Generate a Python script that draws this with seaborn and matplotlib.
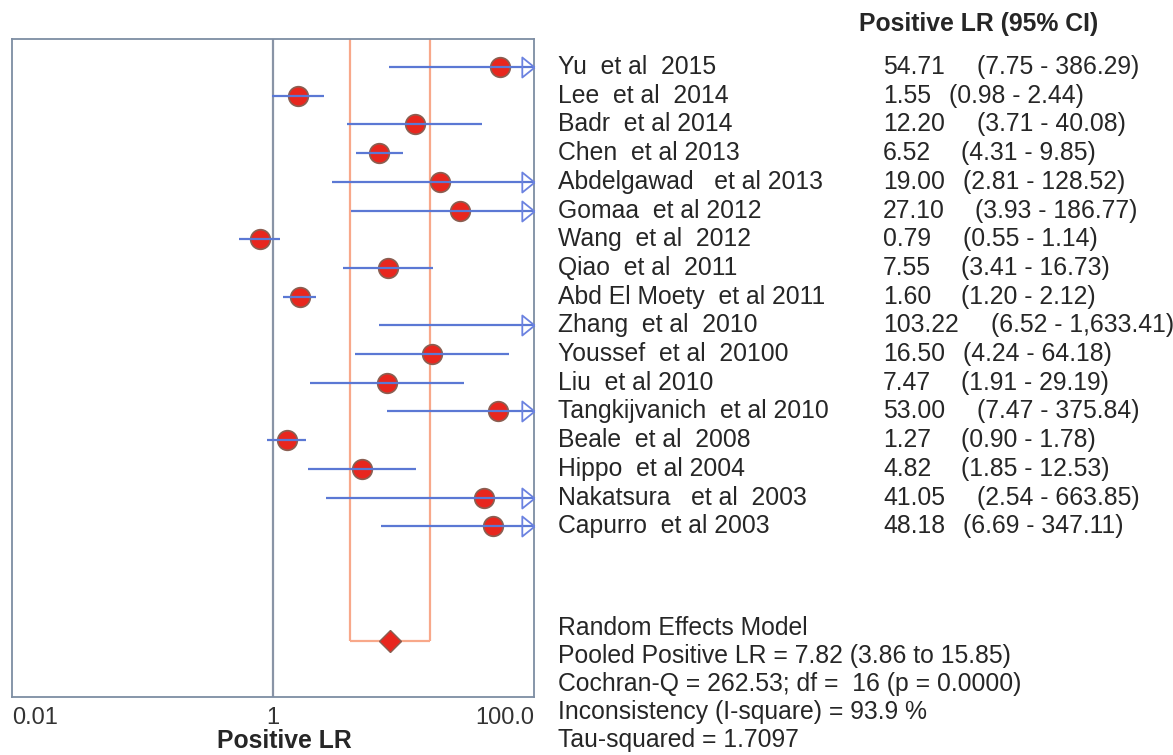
import numpy as np
import pandas as pd
import matplotlib
matplotlib.use("Agg")
import matplotlib.pyplot as plt
import matplotlib.transforms as mtransforms
import seaborn as sns

# ---------------- data ----------------
studies = ["Yu  et al  2015", "Lee  et al  2014", "Badr  et al 2014", "Chen  et al 2013",
           "Abdelgawad   et al 2013", "Gomaa  et al 2012", "Wang  et al  2012",
           "Qiao  et al  2011", "Abd El Moety  et al 2011", "Zhang  et al  2010",
           "Youssef  et al  20100", "Liu  et al 2010", "Tangkijvanich  et al 2010",
           "Beale  et al  2008", "Hippo  et al 2004", "Nakatsura   et al  2003",
           "Capurro  et al 2003"]
lr = [54.71, 1.55, 12.20, 6.52, 19.00, 27.10, 0.79, 7.55, 1.60, 103.22, 16.50, 7.47,
      53.00, 1.27, 4.82, 41.05, 48.18]
ci_low = [7.75, 0.98, 3.71, 4.31, 2.81, 3.93, 0.55, 3.41, 1.20, 6.52, 4.24, 1.91,
          7.47, 0.90, 1.85, 2.54, 6.69]
ci_high = [386.29, 2.44, 40.08, 9.85, 128.52, 186.77, 1.14, 16.73, 2.12, 1633.41, 64.18,
           29.19, 375.84, 1.78, 12.53, 663.85, 347.11]
pooled_lr = 7.82
pooled_low = 3.86
pooled_high = 15.85
x_ticks = [0.01, 1, 100]
x_tick_labels = ["0.01", "1", "100.0"]
stats_lines = ["Random Effects Model",
               "Pooled Positive LR = 7.82 (3.86 to 15.85)",
               "Cochran-Q = 262.53; df =  16 (p = 0.0000)",
               "Inconsistency (I-square) = 93.9 %",
               "Tau-squared = 1.7097"]
header = "Positive LR (95% CI)"
x_label = "Positive LR"

# layout only: gap (px) between the LR value and its CI text in each row
ci_gap_px = [32, 18, 32, 30, 18, 30, 32, 30, 30, 32, 18, 30, 32, 30, 30, 32, 18]

# ---------------- style ----------------
sns.set_theme(style="white")
plt.rcParams["font.family"] = ["Liberation Sans", "DejaVu Sans"]

W, H = 1173, 755
fig = plt.figure(figsize=(W / 100, H / 100), dpi=100)
ax = fig.add_axes([12 / W, 1 - 697 / H, 522 / W, 658 / H])

rows = np.arange(len(studies))
pooled_row = 20.0
df = pd.DataFrame({"study": studies, "lr": lr, "lo": ci_low, "hi": ci_high, "row": rows})

XMIN, XMAX = 0.01, 100
ax.set_xscale("log")
ax.set_xlim(XMIN, XMAX)
ax.set_ylim(21.95, -0.976)

BLUE = "#5b78d4"
RED = "#e8261e"
EDGE = "#8a5f52"
ORANGE = "#f8a88a"
FRAME = "#7d8da3"
TXT = "#262626"
FS = 17.8

# reference line at 1
ax.axvline(1, color="#8994a6", lw=1.6, zorder=1)

# pooled CI box (orange)
ax.vlines([pooled_low, pooled_high], -0.976, pooled_row, color=ORANGE, lw=1.6, zorder=1)
ax.hlines(pooled_row, pooled_low, pooled_high, color=ORANGE, lw=1.6, zorder=1)

# points (only those inside the axis range are shown)
vis = df[(df["lr"] >= XMIN) & (df["lr"] <= XMAX)]
sns.scatterplot(data=vis, x="lr", y="row", ax=ax, s=200, color=RED, edgecolor=EDGE,
                linewidth=1.2, zorder=3, legend=False)

# CI lines (drawn over the dots)
ax.hlines(df["row"], df["lo"], df["hi"], color=BLUE, lw=1.6, zorder=4)

# open arrows for CIs exceeding the axis
over = df[df["hi"] > XMAX]
MS_ARROW = 14.4
arrow_marker = [(0.62, 0), (-0.62, -1), (-0.62, 1), (0.62, 0)]
arrow_tf = mtransforms.offset_copy(ax.transData, fig=fig, x=-0.31 * MS_ARROW * 100 / 72,
                                   y=0, units="dots")
ax.plot(np.full(len(over), XMAX), over["row"], linestyle="none", marker=arrow_marker,
        markersize=MS_ARROW, markerfacecolor="none", markeredgecolor="#6b82e0",
        markeredgewidth=1.3, transform=arrow_tf, zorder=5, clip_on=False)

# pooled diamond
ax.plot([pooled_lr], [pooled_row], marker="D", markersize=11, color=RED,
        markeredgecolor=EDGE, markeredgewidth=1.0, linestyle="none", zorder=5)

# axes styling
for sp in ax.spines.values():
    sp.set_visible(True)
    sp.set_color(FRAME)
    sp.set_linewidth(1.3)
ax.set_yticks([])
ax.set_ylabel("")
ax.set_xticks(x_ticks)
ax.xaxis.set_minor_locator(matplotlib.ticker.NullLocator())
ax.set_xticklabels(x_tick_labels, fontsize=17, color="#333333")
ax.tick_params(axis="x", length=0, pad=7)
labs = ax.get_xticklabels()
labs[0].set_ha("left")
labs[1].set_ha("center")
labs[2].set_ha("right")
ax.set_xlabel(x_label, fontsize=FS, fontweight="bold", color=TXT)
ax.xaxis.set_label_coords((284 - 12) / 522, -(741 - 697) / 658, transform=ax.transAxes)
ax.xaxis.label.set_va("center")

# right-side text
blend = mtransforms.blended_transform_factory(fig.transFigure, ax.transData)
for _, r in df.iterrows():
    fig.text(558 / W, r["row"], r["study"], transform=blend, fontsize=FS, color=TXT,
             ha="left", va="center")
    vt = fig.text(883 / W, r["row"], f"{r['lr']:.2f}", transform=blend, fontsize=FS,
                  color=TXT, ha="left", va="center")
    gap_pt = ci_gap_px[int(r["row"])] * 72 / 100
    ax.annotate(f"({r['lo']:,.2f} - {r['hi']:,.2f})", xy=(1, 0.5), xycoords=vt,
                xytext=(gap_pt, 0), textcoords="offset points", fontsize=FS, color=TXT,
                ha="left", va="center", annotation_clip=False)

fig.text(859 / W, 1 - 24 / H, header, fontsize=FS, fontweight="bold", color=TXT,
         ha="left", va="center")

for i, line in enumerate(stats_lines):
    fig.text(558 / W, 1 - (628 + 28 * i) / H, line, fontsize=FS, color=TXT,
             ha="left", va="center")

fig.savefig("out.png", dpi=100)
